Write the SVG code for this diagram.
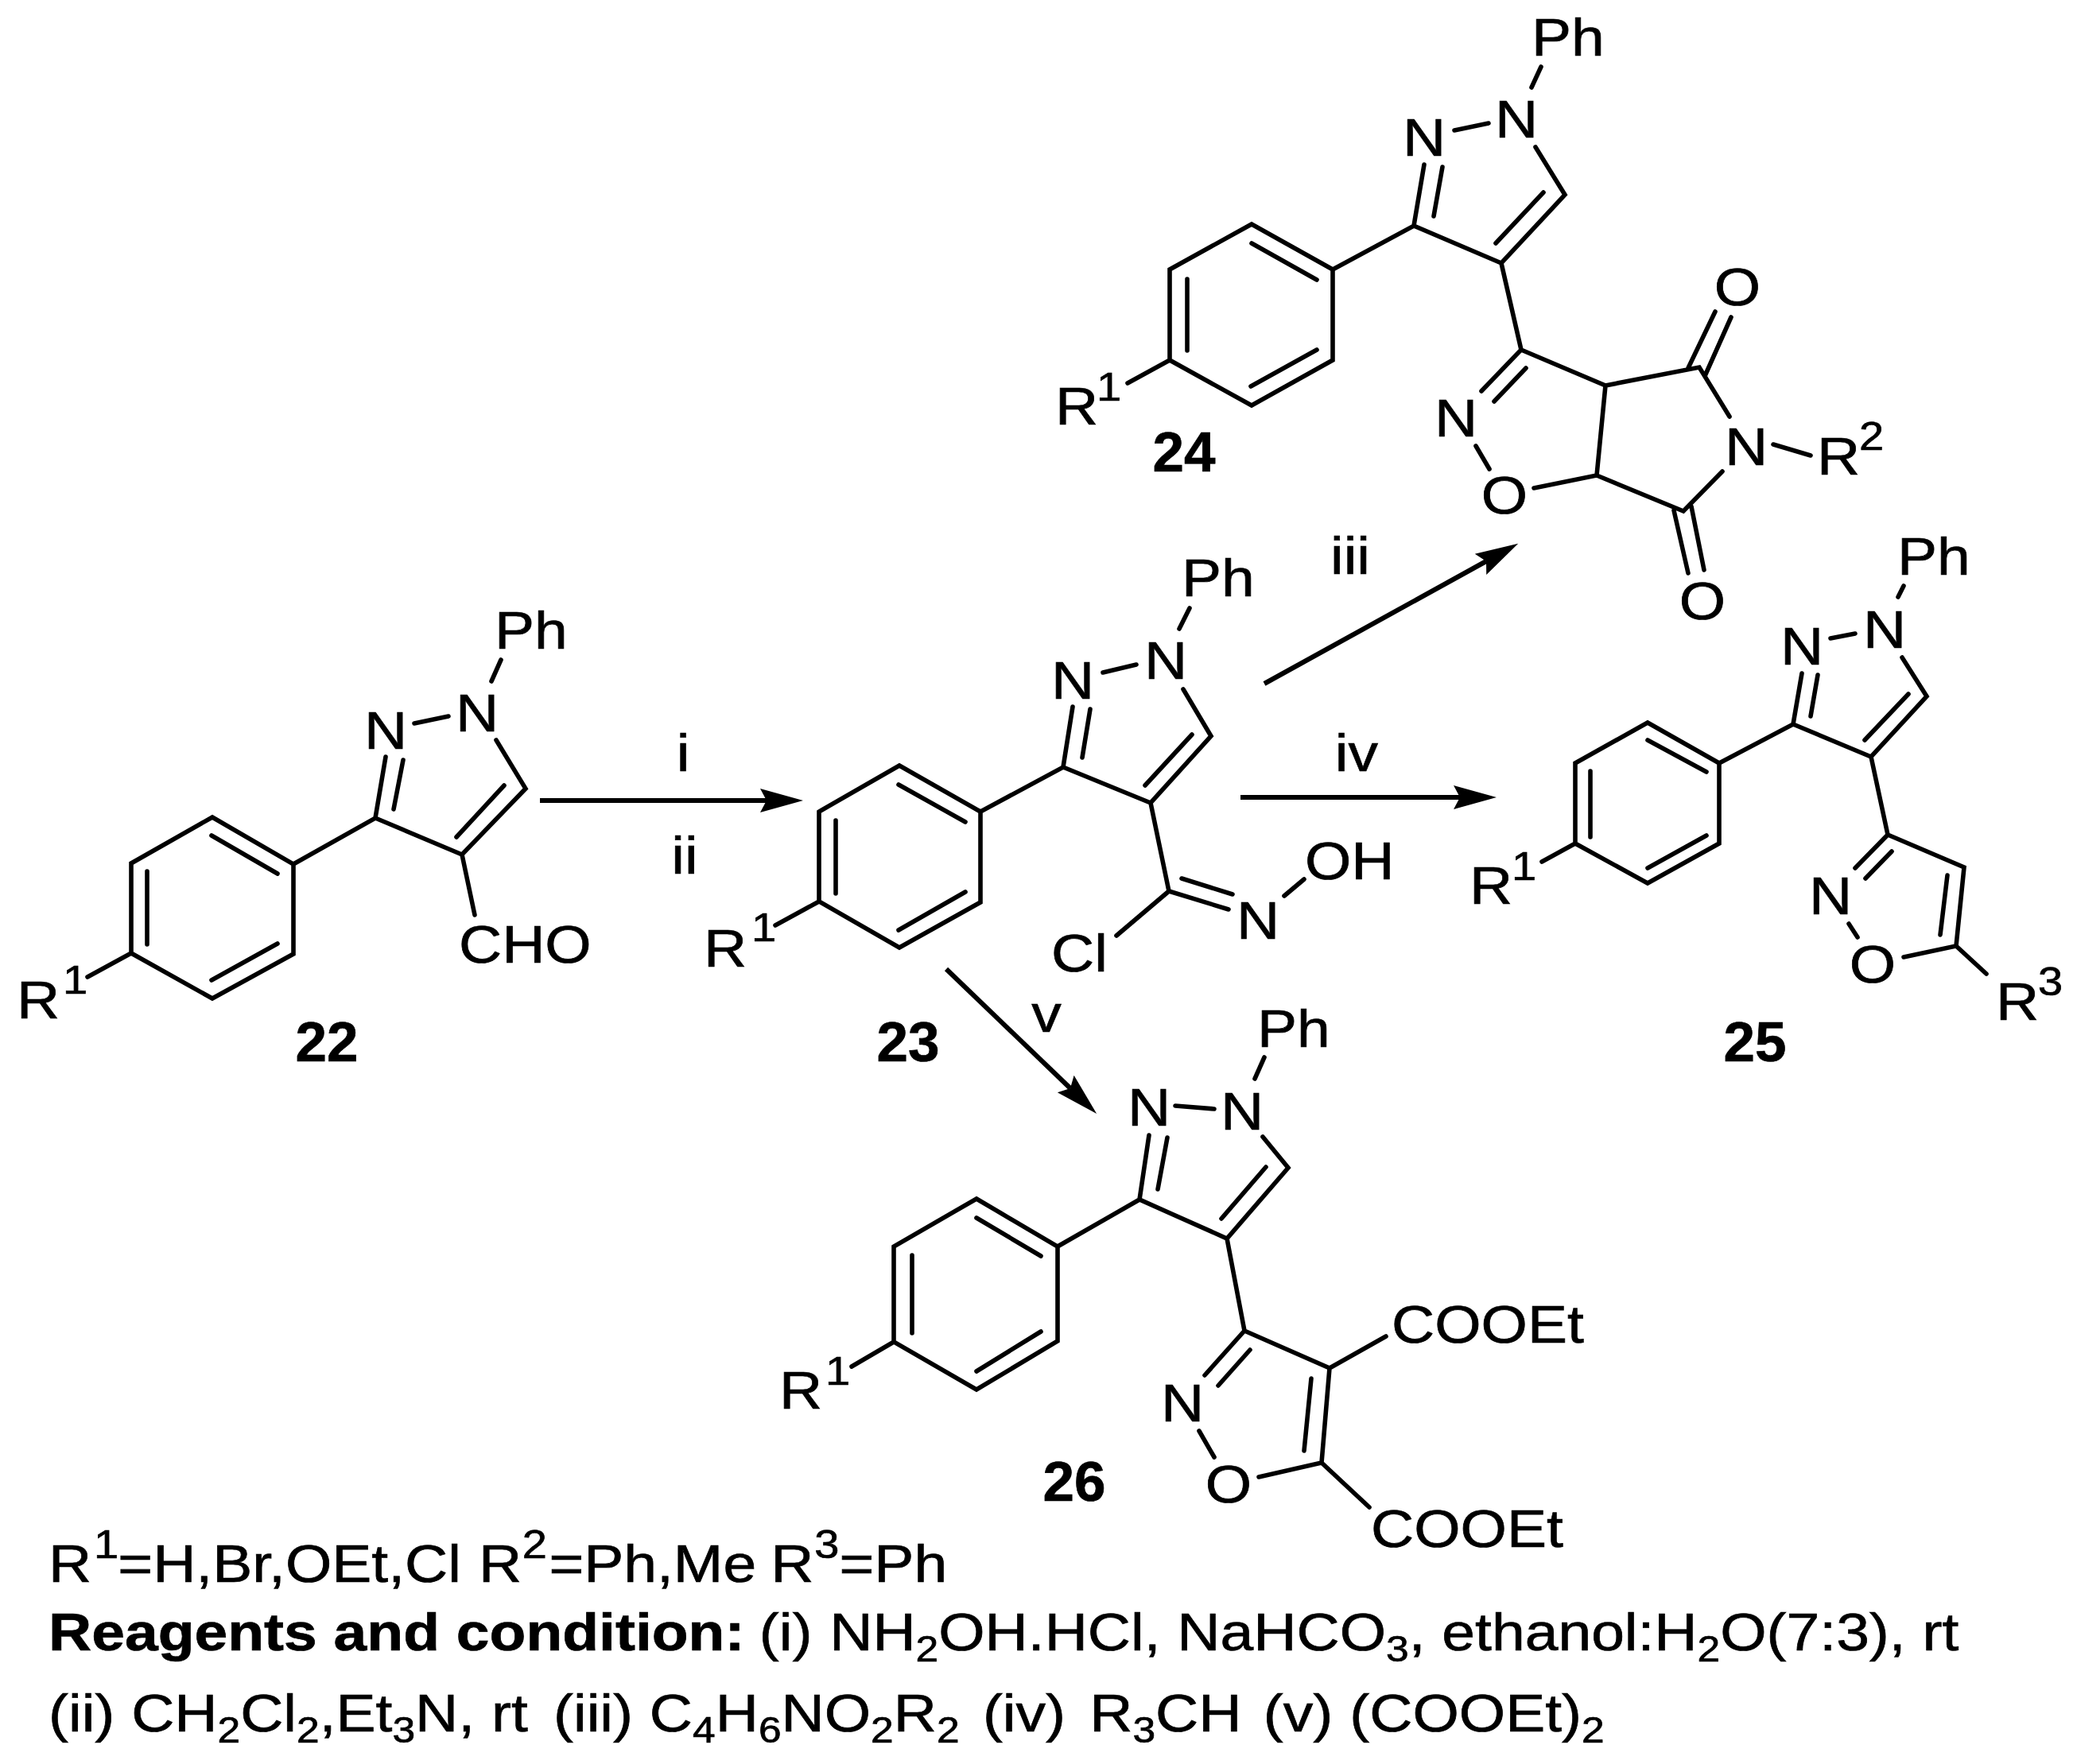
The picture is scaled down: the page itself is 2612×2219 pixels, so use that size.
<svg xmlns="http://www.w3.org/2000/svg" width="2612" height="2219" viewBox="0 0 2612 2219">
<style>
text{font-family:"Liberation Sans",Arial,sans-serif;fill:#000;stroke:#000;stroke-width:.7;font-size:67px}
.l,.c,.s,.b{transform-box:fill-box;transform:scaleX(1.12)}
.l,.s{transform-origin:left center}
.c,.b{transform-origin:center;text-anchor:middle}
.s{font-size:50px}
.b{font-size:71px;font-weight:bold;transform:none}
.bond{fill:none;stroke:#000;stroke-width:5.6;stroke-linecap:round;stroke-linejoin:miter}
.arrow{fill:none;stroke:#000;stroke-width:6;marker-end:url(#head)}
.bt{font-weight:bold}
.sub{font-size:46px}
.sup{font-size:50px}
</style>
<defs>
<marker id="head" markerUnits="userSpaceOnUse" markerWidth="60" markerHeight="34" refX="8" refY="17" orient="auto"><path d="M0,2 L54,17 L0,32 L8,17 Z" fill="#000"/></marker>
</defs>
<rect width="2612" height="2219" fill="#fff"/>
<g id="connectors">
<path class="arrow" d="M679,1007 H964"/>
<path class="arrow" d="M1560,1003 H1836"/>
<path class="arrow" d="M1590,860 L1869,706"/>
<path class="arrow" d="M1190,1219 L1346,1369"/>
</g>
<g id="arrow-labels">
<text class="c" x="859" y="970">i</text>
<text class="c" x="861" y="1099">ii</text>
<text class="c" x="1698" y="722">iii</text>
<text class="c" x="1706" y="970">iv</text>
<text class="c" x="1316" y="1298">v</text>
</g>
<g id="compound-22">
<path class="bond" d="M267,1028 L369,1087 V1200 L267,1256 L165,1199 V1086 Z M266,1051 L349,1099 M185,1096 V1188 M266,1233 L349,1187 M369,1087 L472,1029 L581,1075 L661,992 L624,931 M472,1029 L485,952 M495,1018 L507,956 M574,1053 L634,988 M521,910 L564,901 M618,857 L630,830 M581,1075 L597,1151 M165,1199 L110,1229"/>
<text class="c" x="485" y="942">N</text>
<text class="c" x="600" y="920">N</text>
<text class="l" x="622" y="816">Ph</text>
<text class="l" x="577" y="1211">CHO</text>
<text class="l" x="21" y="1281">R</text>
<text class="s" x="79" y="1250">1</text>
<text class="b" x="411" y="1335">22</text>
</g>
<g id="compound-23">
<path class="bond" d="M1131,963 L1233,1021 V1135 L1131,1192 L1030,1134 V1021 Z M1130,987 L1214,1034 M1051,1032 V1124 M1130,1170 L1214,1122 M1233,1021 L1337,965 L1447,1010 L1523,926 L1488,867 M1337,965 L1349,889 M1361,953 L1371,892 M1440,988 L1499,924 M1387,846 L1429,836 M1483,791 L1496,765 M1447,1010 L1470,1121 L1545,1144 M1486,1105 L1550,1125 M1615,1127 L1640,1106 M1470,1121 L1404,1177 M1030,1134 L975,1164"/>
<text class="c" x="1349" y="879">N</text>
<text class="c" x="1466" y="854">N</text>
<text class="l" x="1486" y="750">Ph</text>
<text class="c" x="1582" y="1181">N</text>
<text class="l" x="1641" y="1106">OH</text>
<text class="l" x="1322" y="1222">Cl</text>
<text class="l" x="885" y="1216">R</text>
<text class="s" x="945" y="1184">1</text>
<text class="b" x="1142" y="1335">23</text>
</g>
<g id="compound-24">
<path class="bond" d="M1574,282 L1676,339 V453 L1574,510 L1471,453 V339 Z M1574,306 L1656,352 M1493,351 V441 M1573,486 L1656,440 M1676,339 L1778,284 L1888,331 L1968,245 L1931,185 M1778,284 L1791,207 M1803,272 L1814,210 M1881,306 L1941,242 M1829,164 L1872,155 M1926,110 L1938,84 M1471,453 L1418,482 M1888,331 L1913,440 L1863,492 M1879,505 L1919,463 M1913,440 L2019,485 L2008,598 L1929,614 M1856,561 L1873,590 M2008,598 L2117,643 L2166,593 M2019,485 L2137,462 L2175,524 M2157,392 L2123,463 M2177,399 L2144,473 M2105,642 L2123,721 M2127,637 L2143,717 M2230,559 L2277,573"/>
<text class="c" x="1791" y="196">N</text>
<text class="c" x="1907" y="173">N</text>
<text class="l" x="1926" y="70">Ph</text>
<text class="l" x="1327" y="534">R</text>
<text class="s" x="1379" y="504">1</text>
<text class="b" x="1489" y="593">24</text>
<text class="c" x="1831" y="549">N</text>
<text class="c" x="1892" y="646">O</text>
<text class="c" x="2185" y="384">O</text>
<text class="c" x="2141" y="779">O</text>
<text class="c" x="2196" y="585">N</text>
<text class="l" x="2285" y="597">R</text>
<text class="s" x="2338" y="566">2</text>
</g>
<g id="compound-25">
<path class="bond" d="M2072,909 L2162,960 V1061 L2072,1111 L1981,1061 V960 Z M2072,931 L2146,971 M2000,970 V1053 M2072,1092 L2146,1051 M2162,960 L2255,911 L2353,952 L2423,876 L2392,827 M2255,911 L2266,847 M2277,901 L2286,849 M2345,931 L2400,873 M2302,803 L2333,797 M2387,751 L2394,737 M2353,952 L2374,1050 L2333,1092 M2346,1105 L2379,1071 M2374,1050 L2470,1091 L2460,1190 L2394,1204 M2449,1101 L2440,1176 M2325,1162 L2336,1179 M2460,1190 L2498,1225 M1981,1061 L1939,1084"/>
<text class="c" x="2266" y="836">N</text>
<text class="c" x="2370" y="815">N</text>
<text class="l" x="2386" y="723">Ph</text>
<text class="c" x="2302" y="1150">N</text>
<text class="c" x="2355" y="1236">O</text>
<text class="l" x="1848" y="1137">R</text>
<text class="s" x="1901" y="1107">1</text>
<text class="l" x="2510" y="1283">R</text>
<text class="s" x="2563" y="1252">3</text>
<text class="b" x="2207" y="1335">25</text>
</g>
<g id="compound-26">
<path class="bond" d="M1228,1508 L1330,1568 V1687 L1228,1748 L1124,1688 V1568 Z M1228,1532 L1309,1580 M1147,1579 V1677 M1228,1725 L1309,1675 M1330,1568 L1433,1509 L1543,1558 L1620,1469 L1588,1430 M1433,1509 L1445,1428 M1456,1496 L1468,1431 M1536,1533 L1592,1468 M1478,1391 L1527,1395 M1578,1357 L1590,1330 M1543,1558 L1565,1674 L1515,1730 M1532,1743 L1572,1698 M1565,1674 L1672,1721 L1662,1840 L1583,1858 M1649,1734 L1640,1825 M1508,1800 L1527,1833 M1672,1721 L1743,1681 M1662,1840 L1722,1896 M1124,1688 L1071,1719"/>
<text class="c" x="1445" y="1416">N</text>
<text class="c" x="1562" y="1421">N</text>
<text class="l" x="1581" y="1317">Ph</text>
<text class="c" x="1487" y="1788">N</text>
<text class="c" x="1545" y="1890">O</text>
<text class="l" x="1750" y="1689">COOEt</text>
<text class="l" x="1724" y="1946">COOEt</text>
<text class="l" x="980" y="1772">R</text>
<text class="s" x="1038" y="1742">1</text>
<text class="b" x="1351" y="1888">26</text>
</g>
<g id="footnotes">
<text transform="translate(61,1990) scale(1.12,1)">R<tspan class="sup" x="51" dy="-30">1</tspan><tspan x="78" dy="30">=H,Br,OEt,Cl</tspan><tspan x="483">R</tspan><tspan class="sup" x="532" dy="-30">2</tspan><tspan x="562" dy="30">=Ph,Me</tspan><tspan x="811">R</tspan><tspan class="sup" x="860" dy="-30">3</tspan><tspan x="888" dy="30">=Ph</tspan></text>
<text transform="translate(61,2076) scale(1.12,1)"><tspan class="bt">Reagents and condition:</tspan><tspan x="798">(i)</tspan><tspan x="877">NH</tspan><tspan class="sub" dy="14">2</tspan><tspan dy="-14">OH.HCl, NaHCO</tspan><tspan class="sub" dy="14">3</tspan><tspan dy="-14">, ethanol:H</tspan><tspan class="sub" dy="14">2</tspan><tspan dy="-14">O(7:3), rt</tspan></text>
<text transform="translate(61,2178) scale(1.12,1)">(ii) CH<tspan class="sub" dy="14">2</tspan><tspan dy="-14">Cl</tspan><tspan class="sub" dy="14">2</tspan><tspan dy="-14">,Et</tspan><tspan class="sub" dy="14">3</tspan><tspan dy="-14">N, rt</tspan><tspan x="567">(iii) C</tspan><tspan class="sub" dy="14">4</tspan><tspan dy="-14">H</tspan><tspan class="sub" dy="14">6</tspan><tspan dy="-14">NO</tspan><tspan class="sub" dy="14">2</tspan><tspan dy="-14">R</tspan><tspan class="sub" dy="14">2</tspan><tspan x="1049" dy="-14">(iv)</tspan><tspan x="1169">R</tspan><tspan class="sub" dy="14">3</tspan><tspan dy="-14">CH</tspan><tspan x="1364">(v)</tspan><tspan x="1461">(COOEt)</tspan><tspan class="sub" dy="14">2</tspan></text>
</g>
</svg>
